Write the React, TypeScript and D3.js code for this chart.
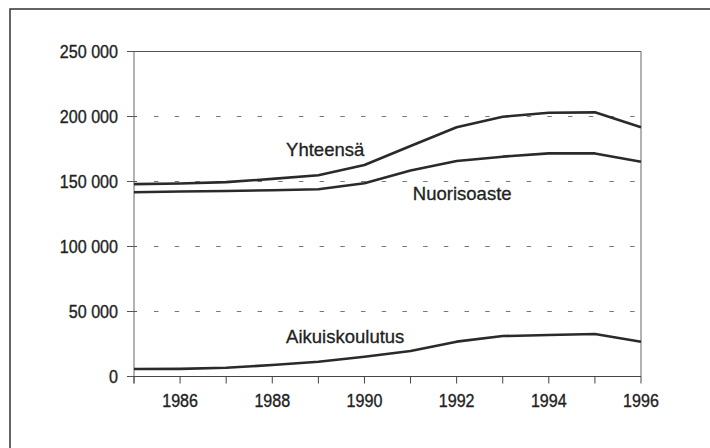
import React, { useEffect, useRef } from "react"
import * as d3 from "d3"

const years = [1985, 1986, 1987, 1988, 1989, 1990, 1991, 1992, 1993, 1994, 1995, 1996]
const yhteensa = [148000, 148500, 149500, 152000, 154800, 162700, 177300, 191700, 199800, 202900, 203200, 191700]
const nuorisoaste = [141700, 142300, 142700, 143300, 144000, 148600, 158500, 165800, 169100, 171600, 171600, 165200]
const aikuiskoulutus = [5800, 5900, 6700, 8800, 11400, 15200, 19600, 26800, 31100, 31900, 32700, 26800]
const yTicks = [0, 50000, 100000, 150000, 200000, 250000]
const xLabels = [1986, 1988, 1990, 1992, 1994, 1996]

const series = [
  { name: "Yhteensä", values: yhteensa, labelYear: 1988.3, labelValue: 170000 },
  { name: "Nuorisoaste", values: nuorisoaste, labelYear: 1991.05, labelValue: 135700 },
  { name: "Aikuiskoulutus", values: aikuiskoulutus, labelYear: 1988.3, labelValue: 25700 },
]

const W = 710
const H = 448
const FONT = "'Liberation Sans', Arial, sans-serif"

const App = () => {
  const ref = useRef<SVGSVGElement>(null)

  useEffect(() => {
    const svg = d3.select(ref.current)
    svg.selectAll("*").remove()

    const x = d3.scaleLinear().domain([1985, 1996]).range([134, 641])
    const y = d3.scaleLinear().domain([0, 250000]).range([376.5, 51.5])
    const fmt = (v: number) => d3.format(",")(v).replace(/,/g, " ")

    // outer frame (only top and left edges fall inside the picture)
    svg.append("rect")
      .attr("x", 10).attr("y", 9)
      .attr("width", 740).attr("height", 480)
      .attr("fill", "none").attr("stroke", "#333").attr("stroke-width", 1.5)

    // dashed grid
    svg.selectAll(".grid")
      .data(yTicks.filter((d) => d > 0 && d < 250000))
      .join("line")
      .attr("x1", x(1985) + 20).attr("x2", x(1996))
      .attr("y1", (d) => y(d)).attr("y2", (d) => y(d))
      .attr("stroke", "#777").attr("stroke-width", 1)
      .attr("stroke-dasharray", "4.5 16.2")

    // plot frame: top and right
    svg.append("line")
      .attr("x1", x(1985)).attr("x2", x(1996))
      .attr("y1", y(250000)).attr("y2", y(250000))
      .attr("stroke", "#555").attr("stroke-width", 1)
    svg.append("line")
      .attr("x1", x(1996)).attr("x2", x(1996))
      .attr("y1", y(250000)).attr("y2", y(0))
      .attr("stroke", "#666").attr("stroke-width", 1)

    // y axis
    svg.append("line")
      .attr("x1", x(1985)).attr("x2", x(1985))
      .attr("y1", y(250000)).attr("y2", y(0) + 7)
      .attr("stroke", "#666").attr("stroke-width", 1)
    svg.selectAll(".ytick")
      .data(yTicks)
      .join("line")
      .attr("x1", x(1985) - 7).attr("x2", x(1985) + 3)
      .attr("y1", (d) => y(d)).attr("y2", (d) => y(d))
      .attr("stroke", "#555").attr("stroke-width", 1)
    svg.selectAll(".ylabel")
      .data(yTicks)
      .join("g")
      .attr("transform", (d) => `translate(118,${y(d) + 6.5}) scale(0.87,1)`)
      .append("text")
      .attr("text-anchor", "end")
      .style("font-family", FONT)
      .style("font-size", "18.5px")
      .attr("fill", "#222")
      .attr("stroke", "#222")
      .attr("stroke-width", 0.35)
      .text((d) => fmt(d))

    // x axis
    svg.append("line")
      .attr("x1", x(1985)).attr("x2", x(1996))
      .attr("y1", y(0)).attr("y2", y(0))
      .attr("stroke", "#444").attr("stroke-width", 1.2)
    svg.selectAll(".xtick")
      .data(years)
      .join("line")
      .attr("x1", (d) => x(d)).attr("x2", (d) => x(d))
      .attr("y1", y(0)).attr("y2", y(0) + 7)
      .attr("stroke", "#444").attr("stroke-width", 1)
    svg.selectAll(".xlabel")
      .data(xLabels)
      .join("g")
      .attr("transform", (d) => `translate(${x(d)},407) scale(0.87,1)`)
      .append("text")
      .attr("text-anchor", "middle")
      .style("font-family", FONT)
      .style("font-size", "18.5px")
      .attr("fill", "#222")
      .attr("stroke", "#222")
      .attr("stroke-width", 0.35)
      .text((d) => d)

    // lines
    const line = d3.line<number>()
      .x((_, i) => x(years[i]))
      .y((d) => y(d))

    svg.selectAll(".series")
      .data(series)
      .join("path")
      .attr("d", (d) => line(d.values))
      .attr("fill", "none")
      .attr("stroke", "#2a2a2a")
      .attr("stroke-width", 2.6)
      .attr("stroke-linejoin", "round")

    svg.selectAll(".slabel")
      .data(series)
      .join("text")
      .attr("x", (d) => x(d.labelYear))
      .attr("y", (d) => y(d.labelValue))
      .style("font-family", FONT)
      .style("font-size", "18.5px")
      .attr("fill", "#222")
      .attr("stroke", "#222")
      .attr("stroke-width", 0.3)
      .text((d) => d.name)
  }, [])

  return (
    <svg
      ref={ref}
      width={W}
      height={H}
      style={{ position: "absolute", left: 0, top: 0, background: "#fff" }}
    ></svg>
  )
}

export default App
